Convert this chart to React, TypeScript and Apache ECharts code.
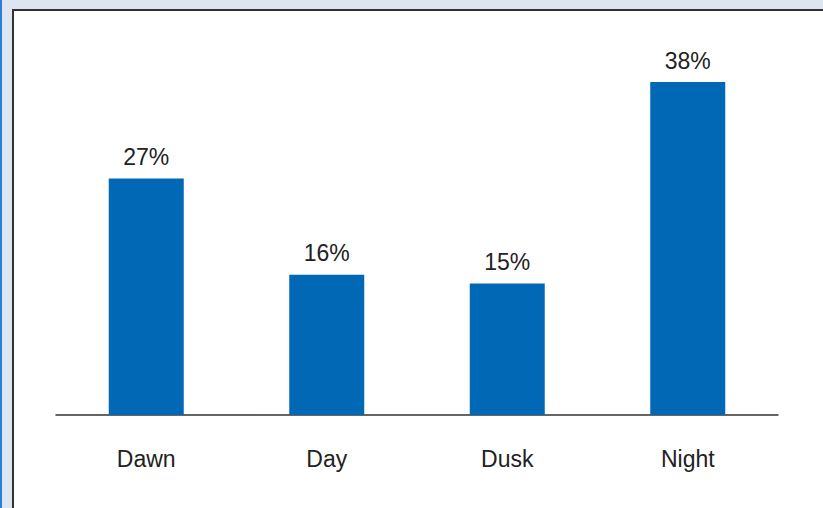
import React, { useEffect, useRef } from "react";
import * as echarts from "echarts";

const categories = ["Dawn", "Day", "Dusk", "Night"];
const values = [27, 16, 15, 38];

export default function App() {
  const ref = useRef<HTMLDivElement>(null);
  useEffect(() => {
    if (!ref.current) return;
    const chart = echarts.init(ref.current, null, { renderer: "svg" });
    chart.setOption({
      animation: false,
      backgroundColor: "#dde4f2",
      graphic: [
        { type: "rect", shape: { x: 0, y: 0, width: 2, height: 508 }, style: { fill: "#2a7fd0" }, z: -10 },
        { type: "rect", shape: { x: 13, y: 10, width: 820, height: 510 }, style: { fill: "#ffffff" }, z: -10 },
        { type: "line", shape: { x1: 13, y1: 10, x2: 823, y2: 10 }, style: { stroke: "#333333", lineWidth: 2 }, z: -9 },
        { type: "line", shape: { x1: 13, y1: 9, x2: 13, y2: 508 }, style: { stroke: "#333333", lineWidth: 2 }, z: -9 },
      ],
      grid: { left: 56, right: 45, top: 47, bottom: 93 },
      xAxis: {
        type: "category",
        data: categories,
        axisLine: { lineStyle: { color: "#333333", width: 1.5 } },
        axisTick: { show: false },
        axisLabel: { color: "#222222", fontSize: 23, fontFamily: "Liberation Sans, Arial, sans-serif", margin: 32 },
      },
      yAxis: {
        type: "value",
        min: 0,
        max: 42,
        show: false,
        splitLine: { show: false },
      },
      series: [
        {
          type: "bar",
          data: values,
          barWidth: 75,
          itemStyle: { color: "#0068b4" },
          label: {
            show: true,
            position: "top",
            distance: 10,
            formatter: (p: any) => p.value + "%",
            color: "#222222",
            fontSize: 23,
            fontFamily: "Liberation Sans, Arial, sans-serif",
          },
        },
      ],
    });
    return () => chart.dispose();
  }, []);
  return (
    <div
      ref={ref}
      style={{ position: "absolute", left: 0, top: 0, width: 823, height: 508 }}
    />
  );
}
